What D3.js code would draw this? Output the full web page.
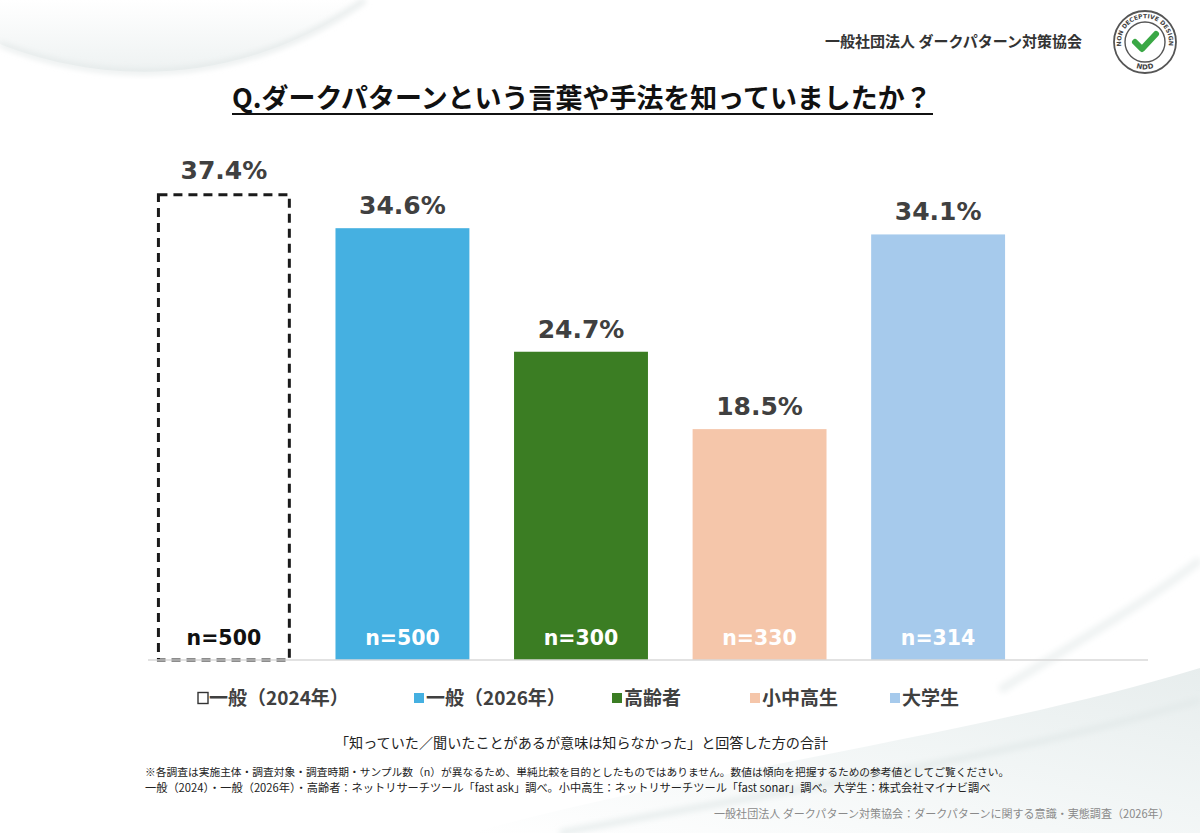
<!DOCTYPE html>
<html lang="ja">
<head>
<meta charset="utf-8">
<script src="https://cdn.jsdelivr.net/npm/d3@7"></script>
<style>
  html, body { margin: 0; padding: 0; background: #fff; }
  svg { display: block; }
</style>
</head>
<body>
<div id="chart"></div>
<script>
// data
const categories = ["一般（2024年）", "一般（2026年）", "高齢者", "小中高生", "大学生"];
const values = [37.4, 34.6, 24.7, 18.5, 34.1];
const sampleSizes = [500, 500, 300, 330, 314];

const title = "Q.ダークパターンという言葉や手法を知っていましたか？";
const org = "一般社団法人 ダークパターン対策協会";
const subtitle = "「知っていた／聞いたことがあるが意味は知らなかった」と回答した方の合計";
const notes = [
  "※各調査は実施主体・調査対象・調査時期・サンプル数（n）が異なるため、単純比較を目的としたものではありません。数値は傾向を把握するための参考値としてご覧ください。",
  "一般（2024）・一般（2026年）・高齢者：ネットリサーチツール「fast ask」調べ。小中高生：ネットリサーチツール「fast sonar」調べ。大学生：株式会社マイナビ調べ"
];
const source = "一般社団法人 ダークパターン対策協会：ダークパターンに関する意識・実態調査（2026年）";

// styling
const barColors = ["none", "#45b0e1", "#3b7d23", "#f5c6aa", "#a6caec"];
const labelColors = ["#111", "#fff", "#fff", "#fff", "#fff"];
const legendX = [197, 414, 612, 750, 890];

const W = 1200, H = 833;
const JP = "'Noto Sans CJK JP', 'Noto Sans', sans-serif";
const NUM = "'DejaVu Sans', Verdana, sans-serif";

const svg = d3.select("#chart").append("svg")
  .attr("width", W).attr("height", H)
  .attr("viewBox", [0, 0, W, H]);

// scale a text's font so it spans the given width
function fitWidth(sel, width) {
  sel.each(function () {
    const s = +this.getAttribute("font-size");
    const w = this.getComputedTextLength();
    if (w > 0) this.setAttribute("font-size", (s * width / w).toFixed(2));
  });
}

// --- soft background swooshes
const defs = svg.append("defs");
const g1 = defs.append("linearGradient").attr("id", "sw1").attr("x1", 0).attr("y1", 0).attr("x2", 0).attr("y2", 1);
g1.append("stop").attr("offset", 0).attr("stop-color", "#ffffff");
g1.append("stop").attr("offset", 1).attr("stop-color", "#eef2f2");
const g2 = defs.append("linearGradient").attr("id", "sw2").attr("x1", 0).attr("y1", 1).attr("x2", 1).attr("y2", 0);
g2.append("stop").attr("offset", 0).attr("stop-color", "#ffffff");
g2.append("stop").attr("offset", 0.6).attr("stop-color", "#eef3f3");
g2.append("stop").attr("offset", 1).attr("stop-color", "#e3eaea");
defs.append("filter").attr("id", "blur").append("feGaussianBlur").attr("stdDeviation", 3);

svg.append("path")
  .attr("d", "M0,0 L0,44 C90,80 230,95 365,0 Z")
  .attr("fill", "url(#sw1)");
svg.append("path")
  .attr("d", "M0,44 C90,80 230,95 365,0")
  .attr("fill", "none").attr("stroke", "#dfe5e5").attr("stroke-width", 4)
  .attr("filter", "url(#blur)");
svg.append("path")
  .attr("d", "M470,833 C700,770 980,735 1200,668 L1200,833 Z")
  .attr("fill", "url(#sw2)").attr("opacity", 0.85);
svg.append("path")
  .attr("d", "M560,833 C780,790 1000,760 1200,700")
  .attr("fill", "none").attr("stroke", "#e2e9e9").attr("stroke-width", 5)
  .attr("filter", "url(#blur)");
svg.append("path")
  .attr("d", "M1000,690 C1080,640 1150,600 1200,560")
  .attr("fill", "none").attr("stroke", "#eef2f2").attr("stroke-width", 8)
  .attr("filter", "url(#blur)");

// --- header
svg.append("text")
  .attr("x", 825).attr("y", 47)
  .attr("font-family", JP).attr("font-weight", 700).attr("font-size", 14)
  .attr("fill", "#333")
  .text(org)
  .call(fitWidth, 257);

// logo
const logo = svg.append("g").attr("transform", "translate(1145,42)");
logo.append("circle").attr("r", 31).attr("fill", "#fff").attr("stroke", "#555").attr("stroke-width", 1.8);
logo.append("circle").attr("r", 20).attr("fill", "none").attr("stroke", "#555").attr("stroke-width", 1.4);
const rA = 25.5, a0 = 125 * Math.PI / 180;
defs.append("path").attr("id", "arcTop")
  .attr("d", `M${-rA * Math.sin(a0)},${-rA * Math.cos(a0)} A${rA},${rA} 0 1 1 ${rA * Math.sin(a0)},${-rA * Math.cos(a0)}`);
defs.append("path").attr("id", "arcBot").attr("d", "M-25.5,0 A25.5,25.5 0 0 0 25.5,0");
logo.append("text")
  .attr("font-family", NUM).attr("font-weight", 700).attr("font-size", 6).attr("fill", "#444")
  .attr("letter-spacing", 0.3)
  .append("textPath").attr("href", "#arcTop").attr("startOffset", "50%").attr("text-anchor", "middle")
  .attr("dominant-baseline", "middle")
  .text("NON DECEPTIVE DESIGN");
logo.append("text")
  .attr("font-family", NUM).attr("font-weight", 700).attr("font-size", 7).attr("fill", "#444")
  .append("textPath").attr("href", "#arcBot").attr("startOffset", "50%").attr("text-anchor", "middle")
  .attr("dominant-baseline", "middle")
  .text("NDD");
logo.append("path")
  .attr("d", "M-10,0 L-3,7 L11,-8")
  .attr("fill", "none").attr("stroke", "#3aa845").attr("stroke-width", 6)
  .attr("stroke-linecap", "round").attr("stroke-linejoin", "round");

// --- title
svg.append("text")
  .attr("x", 232).attr("y", 108)
  .attr("font-family", JP).attr("font-weight", 700).attr("font-size", 27)
  .attr("fill", "#111")
  .text(title)
  .call(fitWidth, 700);
svg.append("line")
  .attr("x1", 232).attr("x2", 933).attr("y1", 114).attr("y2", 114)
  .attr("stroke", "#111").attr("stroke-width", 2);

// --- bars
const x = d3.scaleBand()
  .domain(categories)
  .range([148, 1014])
  .paddingInner(0.25)
  .paddingOuter(0.05);

const y = d3.scaleLinear()
  .domain([0, 40])
  .range([660, 660 - 12.48 * 40]);

const rows = categories.map((c, i) => ({ cat: c, value: values[i], n: sampleSizes[i], i }));

const bar = svg.append("g").selectAll("g")
  .data(rows)
  .join("g");

bar.append("rect")
  .attr("x", d => x(d.cat) + (d.i === 0 ? 1.5 : 0))
  .attr("y", d => y(d.value) + (d.i === 0 ? 1.5 : 0))
  .attr("width", d => x.bandwidth() - (d.i === 0 ? 3 : 0))
  .attr("height", d => y(0) - y(d.value) - (d.i === 0 ? 1.5 : 0))
  .attr("fill", d => barColors[d.i] === "none" ? "#fff" : barColors[d.i])
  .attr("stroke", d => d.i === 0 ? "#1a1a1a" : null)
  .attr("stroke-width", d => d.i === 0 ? 3 : null)
  .attr("stroke-dasharray", d => d.i === 0 ? "9,6" : null);

// baseline
svg.append("line")
  .attr("x1", 148).attr("x2", 1148)
  .attr("y1", y(0)).attr("y2", y(0))
  .attr("stroke", "#d9d9d9").attr("stroke-width", 1.5);

bar.append("text")
  .attr("x", d => x(d.cat) + x.bandwidth() / 2)
  .attr("y", d => y(d.value) - 14)
  .attr("text-anchor", "middle")
  .attr("font-family", NUM).attr("font-weight", 700).attr("font-size", 25)
  .attr("fill", "#404040")
  .text(d => d3.format(".1f")(d.value) + "%");

bar.append("text")
  .attr("x", d => x(d.cat) + x.bandwidth() / 2)
  .attr("y", y(0) - 15)
  .attr("text-anchor", "middle")
  .attr("font-family", NUM).attr("font-weight", 700).attr("font-size", 20.5)
  .attr("fill", d => labelColors[d.i])
  .text(d => "n=" + d.n);

// --- legend
const leg = svg.append("g").selectAll("g")
  .data(rows)
  .join("g")
  .attr("transform", d => `translate(${legendX[d.i]},698)`);

leg.append("rect")
  .attr("x", d => d.i === 0 ? 1 : 0).attr("y", d => d.i === 0 ? -5.5 : -5)
  .attr("width", 10).attr("height", d => d.i === 0 ? 11 : 10)
  .attr("fill", d => d.i === 0 ? "#fff" : barColors[d.i])
  .attr("stroke", d => d.i === 0 ? "#333" : null)
  .attr("stroke-width", 1.4);

leg.append("text")
  .attr("x", 12).attr("y", 7)
  .attr("font-family", JP).attr("font-weight", 700).attr("font-size", 19)
  .attr("fill", "#404040")
  .text(d => d.cat);

// --- subtitle & notes
svg.append("text")
  .attr("x", 335).attr("y", 748)
  .attr("font-family", JP).attr("font-size", 15)
  .attr("fill", "#222")
  .text(subtitle)
  .call(fitWidth, 493);

const noteLen = [865, 846];
svg.append("g").selectAll("text")
  .data(notes)
  .join("text")
  .attr("x", 145)
  .attr("y", (d, i) => 776 + i * 16)
  .attr("font-family", JP).attr("font-size", 11.5)
  .attr("fill", "#222")
  .text(d => d)
  .each(function (d, i) { fitWidth(d3.select(this), noteLen[i]); });

svg.append("text")
  .attr("x", 714).attr("y", 818)
  .attr("font-family", JP).attr("font-size", 12)
  .attr("fill", "#8a8a8a")
  .text(source)
  .call(fitWidth, 456);
</script>
</body>
</html>
